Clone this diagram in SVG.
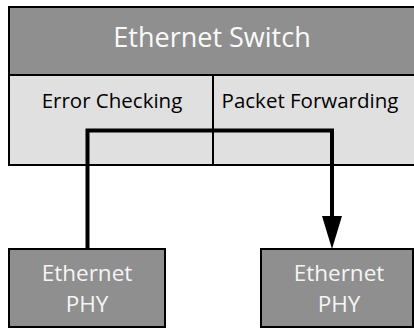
<svg xmlns="http://www.w3.org/2000/svg" width="414" height="330" viewBox="0 0 414 330">
  <style>
    .dark { fill: #8f8f8f; stroke: #000; stroke-width: 2; }
    .light { fill: #e0e0e0; stroke: #000; stroke-width: 2; }
    .sep { stroke: #000; stroke-width: 2; fill: none; }
    .wire { stroke: #000; stroke-width: 4; fill: none; stroke-linejoin: miter; }
    .head { fill: #000; }
    text { font-family: "Open Sans", "Noto Sans", sans-serif; text-anchor: middle; }
    .hdr { fill: #fafafa; font-size: 27px; }
    .blk { fill: #000; font-size: 20.5px; }
    .phy { fill: #f5f5f5; font-size: 22.5px; }
  </style>

  <!-- switch body -->
  <g id="switch">
    <rect class="light" x="9" y="75" width="420" height="90"/>
    <rect class="dark" x="9" y="7" width="420" height="68"/>
    <line class="sep" x1="213" y1="75" x2="213" y2="165"/>
    <text class="hdr" x="212" y="47">Ethernet Switch</text>
  </g>
  <g id="error-checking">
    <text class="blk" x="112" y="108">Error Checking</text>
  </g>
  <g id="packet-forwarding">
    <text class="blk" x="310" y="108">Packet Forwarding</text>
  </g>

  <!-- data path -->
  <g id="connectors">
    <path class="wire" d="M87.5,249 V130.5 H332 V218"/>
    <path class="head" d="M322,216 L342,216 L332,249 Z"/>
  </g>

  <!-- PHY blocks -->
  <g id="phy-left">
    <rect class="dark" x="9" y="249" width="156" height="78"/>
    <text class="phy" x="87" y="281">Ethernet</text>
    <text class="phy" x="87" y="312">PHY</text>
  </g>
  <g id="phy-right">
    <rect class="dark" x="261" y="249" width="152" height="78"/>
    <text class="phy" x="339" y="281">Ethernet</text>
    <text class="phy" x="339" y="312">PHY</text>
  </g>
</svg>
